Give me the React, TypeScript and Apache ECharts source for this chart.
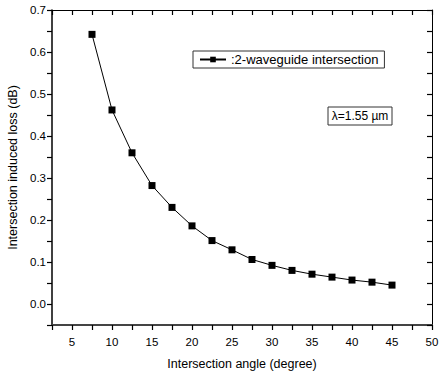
import React, { useEffect, useRef } from "react";
import * as echarts from "echarts";

const angles = [7.5, 10, 12.5, 15, 17.5, 20, 22.5, 25, 27.5, 30, 32.5, 35, 37.5, 40, 42.5, 45];
const losses = [0.642, 0.462, 0.36, 0.282, 0.23, 0.186, 0.151, 0.129, 0.106, 0.092, 0.08, 0.071, 0.064, 0.057, 0.052, 0.045];
const seriesName = ":2-waveguide intersection";
const xTitle = "Intersection angle (degree)";
const yTitle = "Intersection induced loss (dB)";
const noteText = "λ=1.55 µm";

const FONT = "'Liberation Sans', Arial, sans-serif";

export default function App() {
  const ref = useRef<HTMLDivElement>(null);
  useEffect(() => {
    if (!ref.current) return;
    const chart = echarts.init(ref.current, null, { renderer: "svg" });
    const xFmt = (v: number) => (Math.abs(v % 5) < 1e-6 ? String(Math.round(v)) : "");
    const yFmt = (v: number) => {
      const k = Math.round(v * 100);
      return k % 10 === 0 ? (k / 100).toFixed(1) : "";
    };
    const tick = (inside: boolean) => ({
      show: true,
      inside,
      length: 5,
      interval: 0,
      lineStyle: { color: "#000", width: 1.2, type: "solid" },
    });
    chart.setOption({
      animation: false,
      backgroundColor: "#fff",
      textStyle: { fontFamily: FONT },
      grid: { left: 52, right: 7, top: 10, bottom: 52, outerBoundsMode: "none", containLabel: false },
      legend: {
        left: 193,
        top: 51,
        width: 200,
        data: [seriesName],
        borderColor: "#333",
        borderWidth: 1,
        borderRadius: 0,
        padding: [2, 6, 2, 6],
        itemWidth: 26,
        itemHeight: 7,
        itemGap: 4,
        textStyle: { fontFamily: FONT, fontSize: 13, color: "#000" },
      },
      xAxis: [
        {
          type: "value",
          position: "bottom",
          min: 2.5,
          max: 50,
          interval: 2.5,
          name: xTitle,
          nameLocation: "middle",
          nameGap: 32,
          nameTextStyle: { fontFamily: FONT, fontSize: 12.5, color: "#000" },
          axisLine: { show: true, onZero: false, lineStyle: { color: "#444", width: 2 } },
          axisTick: tick(false),
          axisLabel: { formatter: xFmt, margin: 11, fontFamily: FONT, fontSize: 11.5, color: "#000", showMaxLabel: true },
          splitLine: { show: false },
        },
        {
          type: "value",
          position: "top",
          min: 2.5,
          max: 50,
          interval: 2.5,
          axisLine: { show: true, onZero: false, lineStyle: { color: "#000", width: 1 } },
          axisTick: tick(true),
          axisLabel: { show: false },
          splitLine: { show: false },
        },
      ],
      yAxis: [
        {
          type: "value",
          position: "left",
          min: -0.05,
          max: 0.7,
          interval: 0.05,
          name: yTitle,
          nameLocation: "middle",
          nameGap: 27,
          nameTextStyle: { fontFamily: FONT, fontSize: 12.5, color: "#000" },
          axisLine: { show: true, onZero: false, lineStyle: { color: "#000", width: 1.5 } },
          axisTick: tick(false),
          axisLabel: { formatter: yFmt, margin: 6, fontFamily: FONT, fontSize: 11.5, color: "#000" },
          splitLine: { show: false },
        },
        {
          type: "value",
          position: "right",
          min: -0.05,
          max: 0.7,
          interval: 0.05,
          axisLine: { show: true, onZero: false, lineStyle: { color: "#000", width: 1 } },
          axisTick: tick(true),
          axisLabel: { show: false },
          splitLine: { show: false },
        },
      ],
      series: [
        {
          name: seriesName,
          type: "line",
          xAxisIndex: 0,
          yAxisIndex: 0,
          data: angles.map((a, i) => [a, losses[i]]),
          symbol: "rect",
          symbolSize: 7,
          showAllSymbol: true,
          lineStyle: { color: "#000", width: 1 },
          itemStyle: { color: "#000" },
        },
      ],
      graphic: [
        {
          type: "rect",
          shape: { x: 328, y: 107, width: 64, height: 18 },
          style: { fill: "#fff", stroke: "#333", lineWidth: 1 },
        },
        {
          type: "text",
          x: 360,
          y: 116,
          style: { text: noteText, font: `12px ${FONT}`, fill: "#000", align: "center", verticalAlign: "middle" },
        },
      ],
    });
    return () => chart.dispose();
  }, []);
  return <div ref={ref} style={{ width: 439, height: 377, position: "absolute", left: 0, top: 0 }} />;
}
